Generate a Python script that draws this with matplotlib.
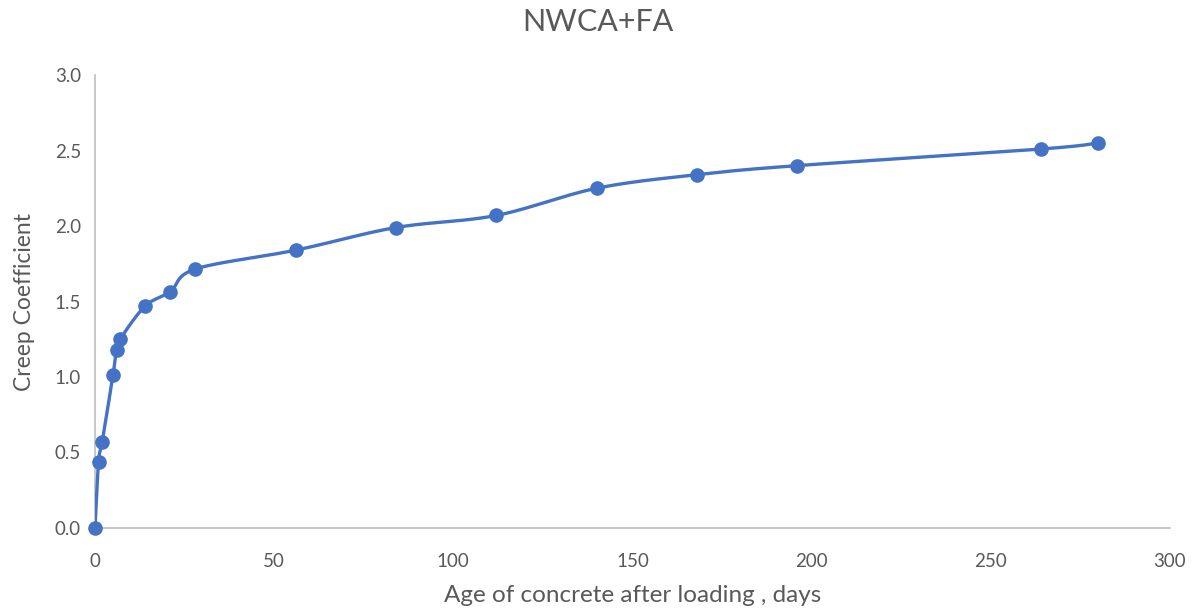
import numpy as np
import matplotlib
matplotlib.use("Agg")
import matplotlib.pyplot as plt

plt.rcParams['font.family'] = ['Lato', 'DejaVu Sans']

# Creep coefficient measured at each age after loading
age_days = [0, 1, 2, 5, 6, 7, 14, 21, 28, 56, 84, 112, 140, 168, 196, 264, 280]
creep_coeff = [0.0, 0.44, 0.57, 1.01, 1.18, 1.25, 1.47, 1.565, 1.715, 1.84, 1.99,
               2.07, 2.25, 2.34, 2.40, 2.51, 2.55]
x_ticks = [0, 50, 100, 150, 200, 250, 300]
y_ticks = [0.0, 0.5, 1.0, 1.5, 2.0, 2.5, 3.0]

TEXT = '#595959'
AXIS = '#BFBFBF'
BLUE = '#4472C4'


def smooth_curve(x, y, n=40):
    """Cubic Bezier smoothing through every point (Catmull-Rom style)."""
    p = np.column_stack([x, y]).astype(float)
    pts = []
    for i in range(len(p) - 1):
        p0 = p[i - 1] if i > 0 else p[i]
        p1, p2 = p[i], p[i + 1]
        p3 = p[i + 2] if i + 2 < len(p) else p[i + 1]
        c1 = p1 + (p2 - p0) / 6.0
        c2 = p2 - (p3 - p1) / 6.0
        t = np.linspace(0, 1, n)[:, None]
        seg = ((1 - t) ** 3) * p1 + 3 * ((1 - t) ** 2) * t * c1 \
            + 3 * (1 - t) * t ** 2 * c2 + t ** 3 * p2
        pts.append(seg if i == 0 else seg[1:])
    pts = np.vstack(pts)
    return pts[:, 0], pts[:, 1]


fig = plt.figure(figsize=(11.95, 6.15), dpi=100)
ax = fig.add_axes([0.0795, 0.1415, 0.8995, 0.7365])

sx, sy = smooth_curve(age_days, creep_coeff)
ax.plot(sx, sy, color=BLUE, lw=2.4, solid_capstyle='round', zorder=3)
ax.plot(age_days, creep_coeff, ls='none', marker='o', ms=9.5,
        color=BLUE, zorder=4, clip_on=False)

ax.set_xlim(0, 300)
ax.set_ylim(0, 3.0)
ax.set_xticks(x_ticks)
ax.set_yticks(y_ticks)
ax.set_yticklabels([f'{v:.1f}' for v in y_ticks])
ax.tick_params(length=0, labelsize=13.5, colors=TEXT)
ax.tick_params(axis='x', pad=18)
ax.tick_params(axis='y', pad=10)

for side in ('top', 'right'):
    ax.spines[side].set_visible(False)
for side in ('left', 'bottom'):
    ax.spines[side].set_color(AXIS)
    ax.spines[side].set_linewidth(1.2)

ax.set_xlabel('Age of concrete after loading , days', fontsize=17.5, color=TEXT, labelpad=11)
ax.set_ylabel('Creep Coefficient', fontsize=16.5, color=TEXT, labelpad=14)
fig.suptitle('NWCA+FA', x=0.5, y=1 - 22 / 615, va='center', fontsize=22, color=TEXT)

fig.savefig('out.png', dpi=100, facecolor='white')
